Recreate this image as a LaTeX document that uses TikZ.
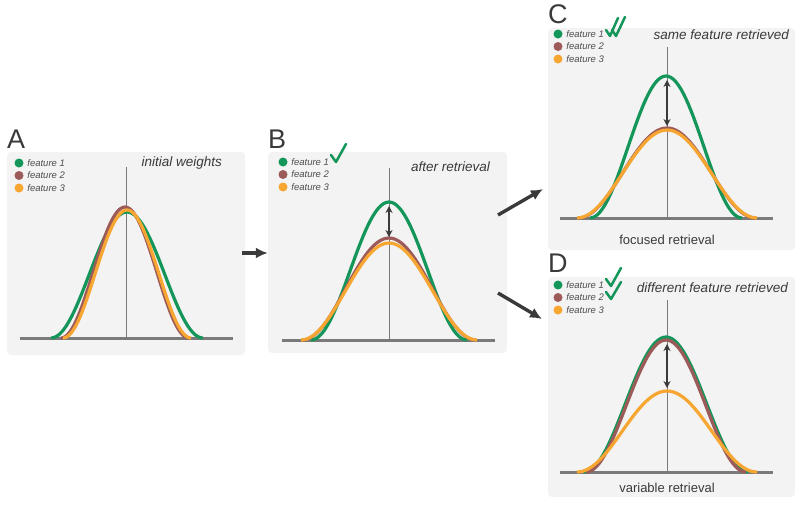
\documentclass[tikz,border=0pt]{standalone}
\usepackage{fontspec}
\setmainfont{Liberation Sans}
\usepackage{xcolor}
\usepackage{tikz}
\usetikzlibrary{positioning,arrows.meta}

\definecolor{fgreen}{HTML}{14965A}
\definecolor{fbrown}{HTML}{9C5A58}
\definecolor{forange}{HTML}{F7A631}
\definecolor{pfill}{HTML}{F3F3F3}
\definecolor{ink}{HTML}{3A3A3A}
\definecolor{axgray}{HTML}{7A7A7A}

% feature curve: colour, centre x, base y, peak y, half width
\newcommand{\featcurve}[5]{%
  \draw[crv,#1] plot[domain=-#5:#5,samples=61]
    ({#2+\x},{#3-(#3-#4)*(0.5+0.5*cos(180*\x/#5))});}
% legend: prefix, x and y of first dot
\newcommand{\featlegend}[3]{%
  \foreach \c/\t [count=\i from 1] in {fgreen/feature 1,fbrown/feature 2,forange/feature 3}{
    \node[dot,fill=\c] (#1d\i) at (#2,{#3+12.5*(\i-1)}) {};
    \node[leg,right=2.5pt of #1d\i] (#1t\i) {\t};
  }}

\begin{document}
\begin{tikzpicture}[x=1pt,y=-1pt,>=Latex,
  panel/.style={fill=pfill,rounded corners=4pt,inner sep=0pt},
  lbl/.style={font=\fontsize{27}{27}\selectfont,text=ink,inner sep=0pt},
  ttl/.style={font=\fontsize{13.5}{15}\selectfont\itshape,text=ink,inner sep=0pt},
  sub/.style={font=\fontsize{13}{15}\selectfont,text=ink,inner sep=0pt},
  leg/.style={font=\fontsize{9.5}{11}\selectfont\itshape,text=ink!90,inner sep=1pt},
  dot/.style={circle,minimum size=9pt,inner sep=0pt},
  crv/.style={line width=3.2pt},
  ax/.style={axgray,line width=3pt},
  mid/.style={axgray,line width=0.6pt},
  tick/.style={fgreen,line width=2.5pt,line cap=round,line join=round},
  dbl/.style={ink,line width=1.8pt,{Stealth[length=7pt,width=7pt]}-{Stealth[length=7pt,width=7pt]}},
  arr/.style={ink,line width=3.4pt,-{Latex[length=12pt,width=11pt]}}]
\useasboundingbox (0,0) rectangle (800,504);

% panels
\node[panel,minimum width=238pt,minimum height=203pt] (pA) at (126,253.5) {};
\node[panel,minimum width=239pt,minimum height=201pt] (pB) at (387.5,252.5) {};
\node[panel,minimum width=247pt,minimum height=222pt] (pC) at (671.5,139) {};
\node[panel,minimum width=247pt,minimum height=220pt] (pD) at (671.5,387) {};
\node[lbl,above right=3pt and 0pt of pA.north west] (lA) {A};
\node[lbl,above right=3pt and 0pt of pB.north west] (lB) {B};
\node[lbl,above right=4pt and 0pt of pC.north west] (lC) {C};
\node[lbl,above right=4pt and 0pt of pD.north west] (lD) {D};

% A: initial weights
\node[ttl,anchor=east] (tA) at (222,163) {initial weights};
\draw[mid] (126,167) -- (126,338);
\draw[ax] (20,338) -- (233,338);
\featcurve{fgreen}{127}{338}{212}{76}
\featcurve{fbrown}{125}{338}{207}{64}
\featcurve{forange}{127}{338}{210}{64}
\featlegend{a}{19}{163}

% B: after retrieval
\node[ttl,anchor=east] (tB) at (490,167) {after retrieval};
\draw[mid] (389,168) -- (389,340);
\draw[ax] (282,340) -- (495,340);
\featcurve{fgreen}{389}{340}{202}{78}
\featcurve{fbrown}{389}{340}{238}{87}
\featcurve{forange}{389}{340}{243}{88}
\coordinate (b1) at (389,206);
\coordinate (b2) at (389,237);
\draw[dbl] (b1) -- (b2);
\featlegend{b}{283}{162}
\draw[tick] (331,155) -- (336,162) -- (346,144);

% C: same feature retrieved
\node[ttl,anchor=east] (tC) at (789,35) {same feature retrieved};
\draw[mid] (667,47) -- (667,218);
\draw[ax] (560,218) -- (773,218);
\featcurve{fgreen}{666}{218}{76}{76}
\featcurve{fbrown}{667}{218}{128}{89}
\featcurve{forange}{667}{218}{130}{90}
\coordinate (c1) at (667,80);
\coordinate (c2) at (667,126);
\draw[dbl] (c1) -- (c2);
\node[sub] (sC) at (667,240) {focused retrieval};
\featlegend{c}{558}{34}
\draw[tick] (606,30) -- (610,36) -- (618,18);
\draw[tick] (612,30) -- (616,36) -- (625,17);

% D: different feature retrieved
\node[ttl,anchor=east] (tD) at (788,288) {different feature retrieved};
\draw[mid] (667,300) -- (667,472);
\draw[ax] (560,472) -- (773,472);
\featcurve{fgreen}{666}{472}{337}{82}
\featcurve{fbrown}{666}{472}{340}{80}
\featcurve{forange}{667}{472}{391}{90}
\coordinate (d1) at (667,344);
\coordinate (d2) at (667,388);
\draw[dbl] (d1) -- (d2);
\node[sub] (sD) at (667,488) {variable retrieval};
\featlegend{d}{558}{285}
\draw[tick] (606,279) -- (611,286) -- (621,268);
\draw[tick] (606,292) -- (611,299) -- (621,282);

% arrows between panels
\coordinate (ab1) at (242,253);
\coordinate (bc1) at (498,215);
\coordinate (bc2) at (543,189);
\coordinate (bd1) at (498,293);
\coordinate (bd2) at (542,319);
\draw[arr] (ab1) -- (ab1 -| pB.west);
\draw[arr] (bc1) -- (bc2);
\draw[arr] (bd1) -- (bd2);
\end{tikzpicture}
\end{document}
